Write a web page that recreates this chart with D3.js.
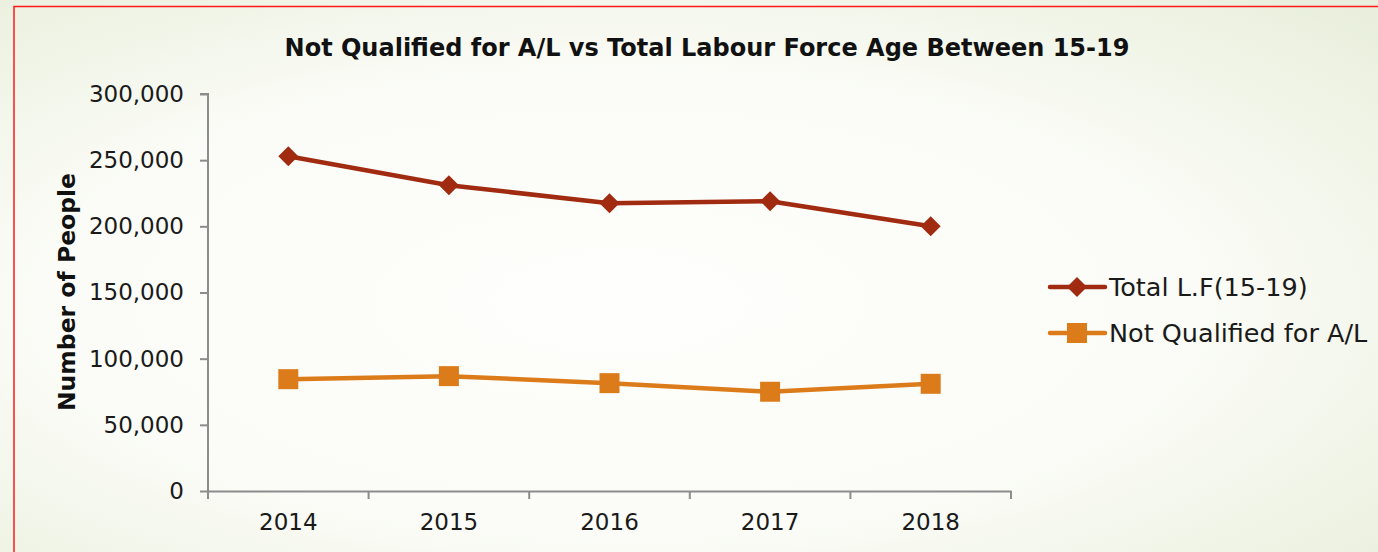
<!DOCTYPE html>
<html>
<head>
<meta charset="utf-8">
<script src="https://cdn.jsdelivr.net/npm/d3@7"></script>
<style>
	body { margin: 0; overflow: hidden; }
	svg { display: block; font-family: "Century Gothic", "DejaVu Sans", sans-serif; }
</style>
</head>
<body>
<svg id="chart" width="1378" height="552"></svg>
<script>
const years = ["2014", "2015", "2016", "2017", "2018"]
const totalLF = [253000, 231000, 217500, 219000, 200000]
const notQualified = [84500, 86800, 81500, 75000, 81000]
const yTicks = [0, 50000, 100000, 150000, 200000, 250000, 300000]
const seriesNames = ["Total L.F(15-19)", "Not Qualified for A/L"]

const svg = d3.select("#chart")
const W = 1378, H = 552
const FONT = "\"Century Gothic\", \"DejaVu Sans\", sans-serif"

// background: pale centre fading to greenish edges
let defs = svg.append("defs")
let grad = defs.append("radialGradient")
	.attr("id", "bg")
	.attr("cx", "45%").attr("cy", "55%").attr("r", "75%")
grad.append("stop").attr("offset", "0%").attr("stop-color", "#fefefc")
grad.append("stop").attr("offset", "55%").attr("stop-color", "#fbfcf7")
grad.append("stop").attr("offset", "100%").attr("stop-color", "#e9efdc")
svg.append("rect").attr("width", W).attr("height", H).attr("fill", "url(#bg)")

// red frame (runs off the right & bottom)
svg.append("rect")
	.attr("x", 14).attr("y", 6.5)
	.attr("width", W + 10).attr("height", H + 10)
	.attr("fill", "none").attr("stroke", "#ff1a1a").attr("stroke-width", 1.5)

const margin = { top: 94, left: 208, right: 1011, bottom: 491 }

let x = d3.scaleBand().domain(years).range([margin.left, margin.right])
let y = d3.scaleLinear().domain([0, 300000]).range([margin.bottom, margin.top])

// y axis
let yAxis = svg.append("g")
	.attr("transform", `translate(${margin.left},0)`)
	.call(d3.axisLeft(y).tickValues(yTicks).tickSize(8).tickPadding(16)
		.tickFormat(d3.format(",")))
// x axis, ticks at band boundaries
let xAxis = svg.append("g")
	.attr("transform", `translate(0,${margin.bottom})`)
	.call(d3.axisBottom(x).tickSize(0).tickPadding(23))
xAxis.selectAll(".bound")
	.data(d3.range(years.length + 1))
	.enter().append("line")
	.attr("class", "bound")
	.attr("x1", i => margin.left + i * x.step())
	.attr("x2", i => margin.left + i * x.step())
	.attr("y1", 0).attr("y2", 8)

for (let g of [yAxis, xAxis]) {
	g.select(".domain").attr("stroke", "#8c8c8c").attr("stroke-width", 2)
	g.selectAll("line").attr("stroke", "#8c8c8c").attr("stroke-width", 2)
	g.selectAll("text").attr("fill", "#1a1a1a").style("font-size", "23px")
		.style("font-family", FONT)
}
yAxis.select(".domain").attr("d", `M-8,${margin.top}H0V${margin.bottom}`)

// title
svg.append("text")
	.attr("x", 707).attr("y", 56)
	.attr("text-anchor", "middle")
	.style("font-size", "24px").style("font-weight", "bold")
	.attr("fill", "#111")
	.text("Not Qualified for A/L vs Total Labour Force Age Between 15-19")

// y label
svg.append("text")
	.attr("transform", "translate(75,292) rotate(-90)")
	.attr("text-anchor", "middle")
	.style("font-size", "23.5px").style("font-weight", "bold")
	.attr("fill", "#111")
	.text("Number of People")

const colors = ["#a02b10", "#dc7b1a"]
const series = [totalLF, notQualified]

let line = d3.line()
	.x((d, i) => x(years[i]) + x.bandwidth() / 2)
	.y(d => y(d))

let diamond = d3.symbol().type(d3.symbolSquare).size(200)
let square = d3.symbol().type(d3.symbolSquare).size(400)

series.forEach((vals, s) => {
	svg.append("path")
		.datum(vals)
		.attr("d", line)
		.attr("fill", "none")
		.attr("stroke", colors[s])
		.attr("stroke-width", 4.5)
		.attr("stroke-linejoin", "round")
	svg.selectAll(".m" + s)
		.data(vals)
		.enter().append("path")
		.attr("class", "m" + s)
		.attr("d", s === 0 ? diamond : square)
		.attr("fill", colors[s])
		.attr("transform", (d, i) => `translate(${x(years[i]) + x.bandwidth() / 2},${y(d)})` + (s === 0 ? " rotate(45)" : ""))
})

// legend
let legend = svg.append("g")
seriesNames.forEach((name, s) => {
	let ly = 287 + s * 46
	legend.append("line")
		.attr("x1", 1050).attr("x2", 1105)
		.attr("y1", ly).attr("y2", ly)
		.attr("stroke", colors[s]).attr("stroke-width", 4.5)
		.attr("stroke-linecap", "round")
	legend.append("path")
		.attr("d", s === 0 ? diamond : square)
		.attr("fill", colors[s])
		.attr("transform", `translate(1077,${ly})` + (s === 0 ? " rotate(45)" : ""))
	legend.append("text")
		.attr("x", 1109).attr("y", ly + 9)
		.style("font-size", "25.5px")
		.attr("fill", "#1a1a1a")
		.text(name)
})
</script>
</body>
</html>
